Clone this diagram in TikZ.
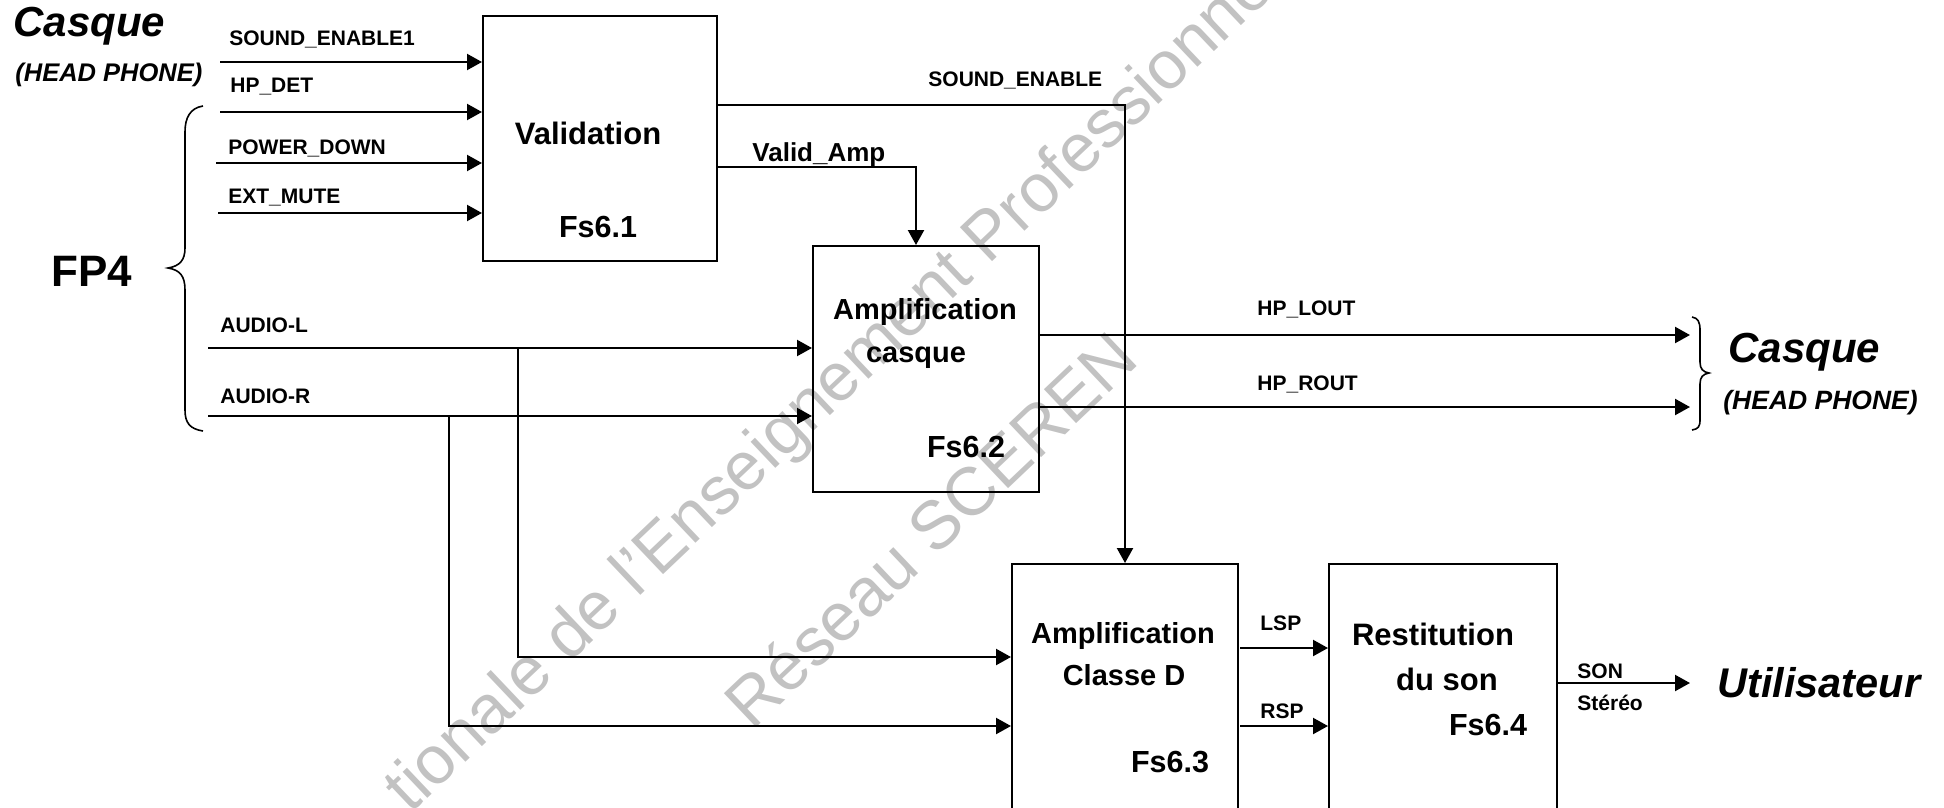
\documentclass[tikz,border=0pt]{standalone}
\usepackage{fontspec}
\setmainfont{Liberation Sans}
\usepackage{pdfrender}
\usetikzlibrary{arrows.meta}
\definecolor{wm}{gray}{0.76}
\begin{document}
\begin{tikzpicture}[x=0.5pt,y=-0.5pt,
  arr/.style={line width=1.1pt,-{Triangle[length=7.5pt,width=8pt]}},
  box/.style={draw,line width=1pt,inner sep=0,anchor=north west},
  brc/.style={line width=0.8pt},
  sl/.style={font=\bfseries\fontsize{10.5}{12}\selectfont,inner sep=0,anchor=base west},
  bt/.style={font=\bfseries\fontsize{#1}{18}\selectfont,inner sep=0,anchor=base},
  bi/.style={font=\bfseries\itshape\fontsize{#1}{24}\selectfont,inner sep=0,anchor=base west},
  wmk/.style={font=\fontsize{34}{38}\selectfont,inner sep=0,anchor=base west,rotate=43.5,text=wm}]
\useasboundingbox (0,0) rectangle (1944,808);
\clip (0,0) rectangle (1944,808);
% watermark
\node[wmk] (wm1) at (410,815) {\textpdfrender{TextRenderingMode=Stroke,LineWidth=0.8}{tionale de l'Enseignement Professionnel}};
\node[wmk] (wm2) at (752,732) {\textpdfrender{TextRenderingMode=Stroke,LineWidth=0.8}{Réseau SCEREN}};
% boxes
\node[box,minimum width=117pt,minimum height=122.5pt] (val) at (482,15) {};
\node[box,minimum width=113pt,minimum height=123pt] (ampc) at (812,245) {};
\node[box,minimum width=113pt,minimum height=143.5pt] (ampd) at (1011,563) {};
\node[box,minimum width=114pt,minimum height=143.5pt] (rest) at (1328,563) {};
% box texts
\node[bt=15.5] (tval) at (588,145) {Validation};
\node[bt=15.25] (tfs1) at (598,237) {Fs6.1};
\node[bt=14.5] (tac1) at (925,319) {Amplification};
\node[bt=14.5] (tac2) at (916,362) {casque};
\node[bt=15.25] (tfs2) at (966,457) {Fs6.2};
\node[bt=14.5] (tad1) at (1123,643) {Amplification};
\node[bt=14.5] (tad2) at (1124,685) {Classe D};
\node[bt=15.25] (tfs3) at (1170,772) {Fs6.3};
\node[bt=15.5] (tr1) at (1433,645) {Restitution};
\node[bt=15.5] (tr2) at (1447,690) {du son};
\node[bt=15.25] (tfs4) at (1488,735) {Fs6.4};
% outer labels
\node[bi=21] (cas1) at (13,37) {Casque};
\node[bi=12.75] (hp1) at (15,82) {(HEAD PHONE)};
\node[bi=21] (cas2) at (1728,362) {Casque};
\node[bi=13.25] (hp2) at (1723,409) {(HEAD PHONE)};
\node[bi=20.75] (util) at (1717,697) {Utilisateur};
\node[bt=22] (fp4) at (92,286) {FP4};
% signal labels
\node[sl] (l1) at (229,46) {SOUND\_ENABLE1};
\node[sl] (l2) at (230,93) {HP\_DET};
\node[sl] (l3) at (228,155) {POWER\_DOWN};
\node[sl] (l4) at (228,204) {EXT\_MUTE};
\node[sl] (lse) at (928,87) {SOUND\_ENABLE};
\node[sl,font=\bfseries\fontsize{13}{15}\selectfont] (lva) at (752,162) {Valid\_Amp};
\node[sl] (lal) at (220,332) {AUDIO-L};
\node[sl] (lar) at (220,403) {AUDIO-R};
\node[sl] (lhl) at (1257,315) {HP\_LOUT};
\node[sl] (lhr) at (1257,390) {HP\_ROUT};
\node[sl] (llsp) at (1260,630) {LSP};
\node[sl] (lrsp) at (1260,718) {RSP};
\node[sl] (lson) at (1577,678) {SON};
\node[sl] (lst) at (1577,710) {Stéréo};
% coordinates
\coordinate (s1) at (220,62);
\coordinate (s2) at (220,112);
\coordinate (s3) at (216,163);
\coordinate (s4) at (218,213);
\coordinate (seo) at (716,105);
\coordinate (vao) at (716,167);
\coordinate (vai) at (916,245);
\coordinate (al) at (208,348);
\coordinate (ar) at (208,416);
\coordinate (bl) at (518,348);
\coordinate (br) at (449,416);
\coordinate (dli) at (1011,657);
\coordinate (dri) at (1011,726);
\coordinate (hle) at (1690,335);
\coordinate (hre) at (1690,407);
\coordinate (lspo) at (1240,648);
\coordinate (rspo) at (1240,726);
\coordinate (sono) at (1556,683);
\coordinate (sone) at (1690,683);
% connectors
\draw[arr] (s1) -- (s1 -| val.west);
\draw[arr] (s2) -- (s2 -| val.west);
\draw[arr] (s3) -- (s3 -| val.west);
\draw[arr] (s4) -- (s4 -| val.west);
\draw[arr] (seo) -| (ampd.north);
\draw[arr] (vao) -| (vai);
\draw[arr] (al) -- (al -| ampc.west);
\draw[arr] (ar) -- (ar -| ampc.west);
\draw[arr] (bl) |- (dli);
\draw[arr] (br) |- (dri);
\draw[arr] (ampc.east |- hle) -- (hle);
\draw[arr] (ampc.east |- hre) -- (hre);
\draw[arr] (lspo) -- (lspo -| rest.west);
\draw[arr] (rspo) -- (rspo -| rest.west);
\draw[arr] (sono) -- (sone);
% braces
\draw[brc] (203,106) .. controls (190,108) and (185,118) .. (185,132) -- (185,248) .. controls (185,260) and (180,266) .. (168,268) .. controls (180,270) and (185,276) .. (185,290) -- (185,410) .. controls (185,423) and (190,429) .. (203,431);
\draw[brc] (1692,317) .. controls (1698,318) and (1700,322) .. (1700,330) -- (1700,362) .. controls (1700,369) and (1703,372) .. (1709,373) .. controls (1703,374) and (1700,377) .. (1700,384) -- (1700,420) .. controls (1700,427) and (1698,429) .. (1692,430);
\end{tikzpicture}
\end{document}
